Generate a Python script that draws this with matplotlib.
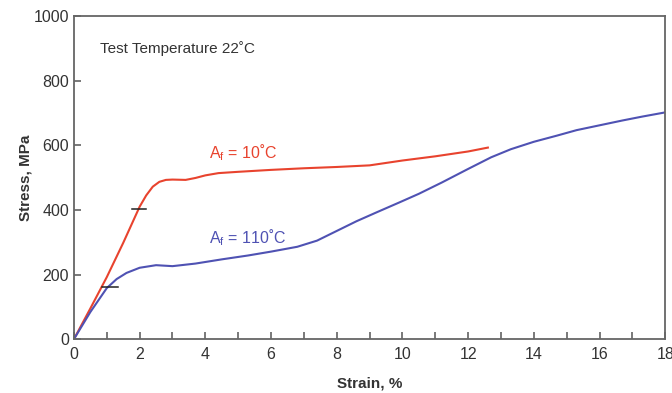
import matplotlib.pyplot as plt
from matplotlib.ticker import MultipleLocator

plt.rcParams['font.family'] = ['Liberation Sans', 'DejaVu Sans']

# A_f = 10 C curve (red)
red_x = [0, 0.5, 1.0, 1.5, 2.0, 2.2, 2.4, 2.6, 2.8, 3.0, 3.4, 3.7, 4.0, 4.4, 5.0,
         6.0, 7.0, 8.0, 9.0, 10.0, 11.0, 12.0, 12.6]
red_y = [0, 95, 192, 298, 410, 445, 472, 487, 493, 494, 493, 499, 507, 514, 518,
         524, 529, 533, 538, 553, 566, 581, 593]

# A_f = 110 C curve (blue)
blue_x = [0, 0.5, 1.0, 1.3, 1.6, 2.0, 2.5, 3.0, 3.7, 4.5, 5.3, 6.0, 6.8, 7.4, 8.0,
          8.6, 9.2, 9.9, 10.5, 11.2, 12.0, 12.7, 13.3, 14.0, 14.7, 15.3, 16.0,
          16.7, 17.3, 18.0]
blue_y = [0, 84, 158, 186, 205, 221, 229, 226, 234, 247, 259, 271, 286, 305, 335,
          365, 392, 423, 450, 485, 527, 563, 588, 611, 630, 647, 662,
          677, 689, 702]

# small black marks on the curves
mark_x = [[0.86, 1.35], [1.78, 2.2]]
mark_y = [161, 402]

fig = plt.figure(figsize=(6.72, 3.93), dpi=100)
ax = fig.add_axes([0.1100, 0.137, 0.880, 0.822])

ax.plot(red_x, red_y, color='#e8432e', lw=1.5, solid_joinstyle='round')
ax.plot(blue_x, blue_y, color='#4f52b3', lw=1.5, solid_joinstyle='round')
for xs, y in zip(mark_x, mark_y):
    ax.plot(xs, [y, y], color='#222222', lw=1.1)

ax.set_xlim(0, 18)
ax.set_ylim(0, 1000)
ax.xaxis.set_major_locator(MultipleLocator(2))
ax.xaxis.set_minor_locator(MultipleLocator(1))
ax.yaxis.set_major_locator(MultipleLocator(200))
ax.tick_params(which='both', direction='in', colors='#555555', labelcolor='#333333', labelsize=11.5)
ax.tick_params(which='both', length=5, width=1.1)
ax.tick_params(axis='x', pad=6)
for s in ax.spines.values():
    s.set_color('#666666')
    s.set_linewidth(1.3)

ax.set_xlabel('Strain, %', fontsize=11, fontweight='bold', color='#333333', labelpad=10)
ax.set_ylabel('Stress, MPa', fontsize=11, fontweight='bold', color='#333333', labelpad=1)

ax.text(0.8, 900, 'Test Temperature 22˚C', fontsize=11, color='#333333', va='center')
ax.text(4.1, 576, r'A$_\mathregular{f}$ = 10˚C', fontsize=11.5, color='#e8432e', va='center')
ax.text(4.1, 315, r'A$_\mathregular{f}$ = 110˚C', fontsize=11.5, color='#4f52b3', va='center')

fig.savefig('out.png', dpi=100)
